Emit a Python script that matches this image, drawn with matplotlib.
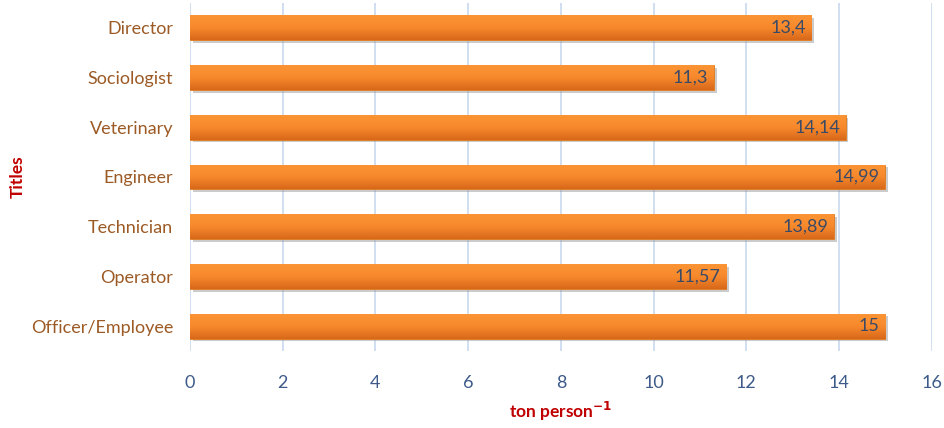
import numpy as np
import matplotlib.pyplot as plt
import matplotlib.patheffects as pe
from matplotlib.colors import LinearSegmentedColormap

titles = ["Director", "Sociologist", "Veterinary", "Engineer", "Technician", "Operator", "Officer/Employee"]
values = [13.4, 11.3, 14.14, 14.99, 13.89, 11.57, 15]
labels = ["13,4", "11,3", "14,14", "14,99", "13,89", "11,57", "15"]
xticks = [0, 2, 4, 6, 8, 10, 12, 14, 16]

plt.rcParams['font.family'] = ['Lato', 'DejaVu Sans']

fig = plt.figure(figsize=(9.45, 4.28), dpi=100)
ax = fig.add_axes([0.201, 0.180, 0.785, 0.813])

grad = LinearSegmentedColormap.from_list('bar', ['#d8681a', '#f7892c', '#fb9434'])

y = np.arange(len(titles))[::-1]
bars = ax.barh(y, values, height=0.5, color='#f38b2c', edgecolor='#e07a1c', linewidth=0.6, zorder=3,
               path_effects=[pe.SimplePatchShadow(offset=(2, -2), shadow_rgbFace='#999999', alpha=0.5), pe.Normal()])

# vertical gradient inside each bar
g = np.linspace(0, 1, 64).reshape(-1, 1)
for b in bars:
    x0, y0 = b.get_x(), b.get_y()
    im = ax.imshow(g, cmap=grad, aspect='auto', origin='lower',
                   extent=(x0, x0 + b.get_width(), y0, y0 + b.get_height()), zorder=3.5)
    im.set_clip_path(b)

for yi, v, lab in zip(y, values, labels):
    ax.text(v - 0.12, yi, lab, ha='right', va='center', fontsize=13, color='#3b4a66', zorder=4)

ax.set_xlim(0, 16)
ax.set_ylim(-0.5, len(titles) - 0.5)
ax.set_xticks(xticks)
ax.set_xticklabels([str(t) for t in xticks], color='#3d5a8a', fontsize=13)
ax.set_yticks(y)
ax.set_yticklabels(titles, color='#9c5a25', fontsize=13)
ax.tick_params(length=0, pad=12)
ax.tick_params(axis='x', pad=17)
ax.grid(axis='x', color='#c9d9ee', linewidth=1.2, zorder=0)
for s in ax.spines.values():
    s.set_visible(False)

ax.set_xlabel('ton person$^{\\mathbf{-1}}$', color='#c00000', fontsize=12.5, fontweight='bold')
ax.xaxis.set_label_coords(0.5, -0.14)
ax.set_ylabel('Titles', color='#c00000', fontsize=12.5, fontweight='bold')
ax.yaxis.set_label_coords(-0.222, 0.5)

fig.savefig('out.png', dpi=100)
